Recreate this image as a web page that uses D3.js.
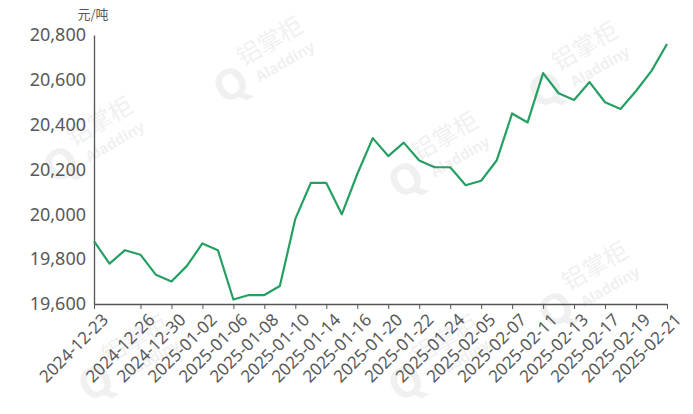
<!DOCTYPE html>
<html><head><meta charset="utf-8">
<script src="https://cdn.jsdelivr.net/npm/d3@7"></script>
<style>body{margin:0;background:#fff}svg{display:block}</style>
</head><body><svg id="c" width="693" height="414"></svg>
<script>
const dates = ["2024-12-23","2024-12-24","2024-12-25","2024-12-26","2024-12-27","2024-12-30","2024-12-31","2025-01-02","2025-01-03","2025-01-06","2025-01-07","2025-01-08","2025-01-09","2025-01-10","2025-01-13","2025-01-14","2025-01-15","2025-01-16","2025-01-17","2025-01-20","2025-01-21","2025-01-22","2025-01-23","2025-01-24","2025-01-27","2025-02-05","2025-02-06","2025-02-07","2025-02-10","2025-02-11","2025-02-12","2025-02-13","2025-02-14","2025-02-17","2025-02-18","2025-02-19","2025-02-20","2025-02-21"];
const prices = [19880,19780,19840,19820,19730,19700,19770,19870,19840,19620,19640,19640,19680,19980,20140,20140,20000,20180,20340,20260,20320,20240,20210,20210,20130,20150,20240,20450,20410,20630,20540,20510,20590,20500,20470,20550,20640,20760];
const tickLabels = ["2024-12-23","2024-12-26","2024-12-30","2025-01-02","2025-01-06","2025-01-08","2025-01-10","2025-01-14","2025-01-16","2025-01-20","2025-01-22","2025-01-24","2025-02-05","2025-02-07","2025-02-11","2025-02-13","2025-02-17","2025-02-19","2025-02-21"];
const yTicks = [19600,19800,20000,20200,20400,20600,20800];
const unit = "元/吨";

(function(){
const svg = d3.select("#c");
const mL = 94, mR = 667, mT = 35, mB = 304;
const font = "'Noto Sans','DejaVu Sans',sans-serif";

// faint watermarks
const wm = [[75,150],[245,70],[560,75],[420,165],[570,295],[420,368],[110,368]];
wm.forEach(([wx,wy])=>{
  const g = svg.append("g").attr("transform",`translate(${wx},${wy}) rotate(-30)`).attr("opacity",0.09);
  g.append("text").attr("x",0).attr("y",-4).attr("font-size",24).attr("font-family","'Noto Sans CJK SC',sans-serif").attr("fill","#666").text("铝掌柜");
  g.append("text").attr("x",6).attr("y",18).attr("font-size",15).attr("font-weight","bold").attr("font-family",font).attr("fill","#666").text("Aladdiny");
  g.append("text").attr("x",-36).attr("y",20).attr("font-size",42).attr("font-weight","bold").attr("font-family",font).attr("fill","#666").text("Q");
});

const x = d3.scalePoint().domain(dates).range([mL, mR]);
const y = d3.scaleLinear().domain([19600, 20800]).range([mB, mT]);

const ya = svg.append("g").attr("transform",`translate(${mL},0)`)
  .call(d3.axisLeft(y).tickValues(yTicks).tickSize(0).tickPadding(8).tickFormat(d3.format(",")));
ya.select(".domain").attr("stroke","#555").attr("stroke-width",1.3);
ya.selectAll("text").attr("font-size",18).attr("font-family",font).attr("fill","#595959");

const xa = svg.append("g").attr("transform",`translate(0,${mB})`)
  .call(d3.axisBottom(x).tickValues(tickLabels).tickSize(5).tickSizeOuter(0));
xa.select(".domain").attr("stroke","#555").attr("stroke-width",1.3);
xa.selectAll(".tick line").attr("stroke","#555");
xa.selectAll("text").attr("font-size",17).attr("font-family",font).attr("fill","#595959")
  .attr("text-anchor","end").attr("dy","0.35em").attr("transform","translate(5,7) rotate(-45)");

svg.append("text").attr("x",93).attr("y",19).attr("text-anchor","middle")
  .attr("font-size",13).attr("font-family","'Noto Sans CJK SC',sans-serif").attr("fill","#595959").text(unit);

const line = d3.line().x((d,i)=>x(dates[i])).y(d=>y(d));
svg.append("path").datum(prices).attr("d",line).attr("fill","none")
  .attr("stroke","#25a062").attr("stroke-width",2.2).attr("stroke-linejoin","round");
})();
</script></body></html>
